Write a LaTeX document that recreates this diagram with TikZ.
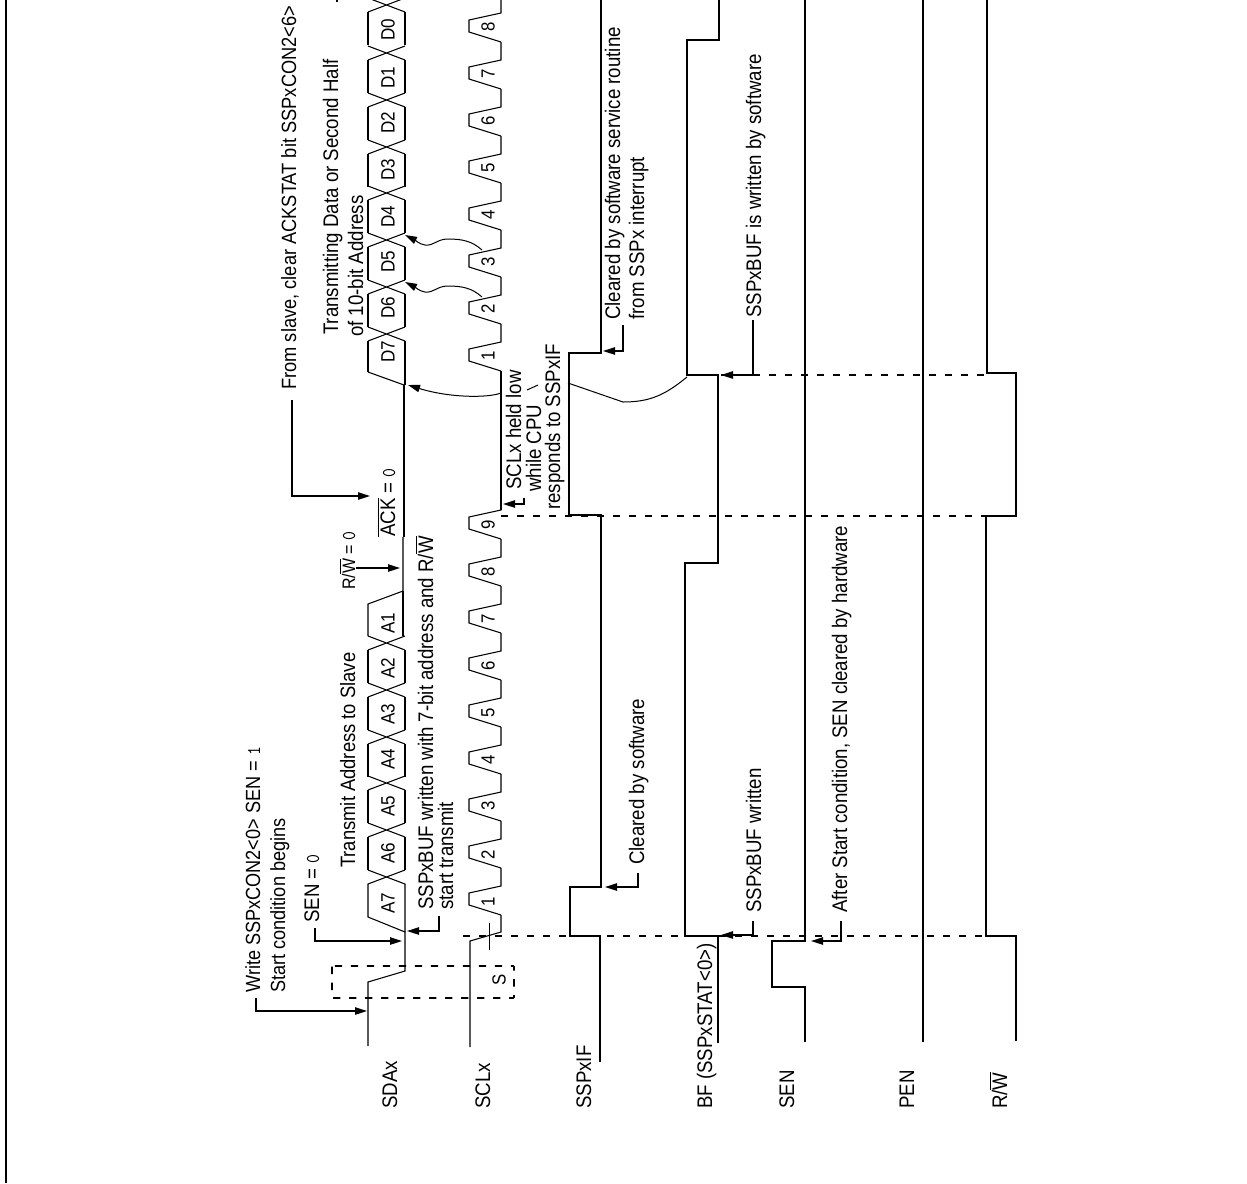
\documentclass[tikz,border=0pt]{standalone}
\usepackage{fontspec}
\setmainfont{Liberation Sans}
\usetikzlibrary{arrows.meta}
\newcommand{\ovbar}[1]{$\overline{\hbox{#1}}$}
\newcommand{\thinnum}[1]{{\ttfamily\fontsize{13}{13}\selectfont #1}}
\tikzset{
  sig/.style={line width=1.15pt,line join=miter},
  wave/.style={line width=0.8pt,line join=miter},
  guide/.style={line width=1.15pt,dash pattern=on 5.5pt off 6.5pt},
  thinline/.style={line width=0.75pt},
  callout/.style={line width=1.1pt,-{Triangle[length=9pt,width=5.5pt]}},
  thincallout/.style={line width=0.75pt,-{Triangle[length=9pt,width=5.5pt]}},
  lab/.style={rotate=90,yscale=1.13,anchor=base west,inner sep=0pt,font=\fontsize{14}{15}\selectfont},
  bub/.style={rotate=90,yscale=1.13,anchor=center,inner sep=0pt,font=\fontsize{12.8}{14}\selectfont},
  num/.style={rotate=90,yscale=1.13,anchor=center,inner sep=0pt,font=\fontsize{12.6}{14}\selectfont}
}
\begin{document}
\begin{tikzpicture}[x=0.75pt,y=-0.75pt]
\useasboundingbox (0,0) rectangle (1247,1183);
\clip (0,0) rectangle (1247,1183);
% frame
\draw[line width=1.2pt] (6,0) -- (6,1183);
% guides
\draw[guide] (463,936) -- (985,936);
\draw[guide] (501,516) -- (1017,516);
\draw[guide] (721,375) -- (987,375);
\draw[guide,rounded corners=0.5pt] (332,966) rectangle (514,998);
\draw[thinline] (489,923) -- (489,950);
% SDA
\draw[wave] (368,1046) -- (368,982) -- (405,971) -- (405,932) -- (368,917) -- (368,884) -- (405,870);
\draw[wave] (405,932) -- (405,884) -- (368,870);
\foreach \c/\n in {830/0,783/0,737/0,690/0,643/0}{
  \draw[wave] (368,\c+7) -- (405,\c-7) (405,\c+7) -- (368,\c-7);
  \draw[wave] (368,\c+7) -- (368,\c+40) (405,\c+7) -- (405,\c+40);
}
\draw[wave] (368,636) -- (368,604) -- (403,591) -- (403,537);
\draw[wave] (403,636) -- (403,591);
\draw[sig] (404,537) -- (404,385);
\draw[wave] (368,372) -- (404,385);
\draw[wave] (368,372) -- (368,341) (405,385) -- (405,341);
\foreach \c in {334,287,240,193,147,100,53,5}{
  \draw[wave] (368,\c+7) -- (405,\c-7) (405,\c+7) -- (368,\c-7);
}
\foreach \c in {287,240,193,147,100,53,5}{
  \draw[wave] (368,\c+7) -- (368,\c+40) (405,\c+7) -- (405,\c+40);
}
% SCL
\draw[wave] (470,1047) -- (470,941) -- (501,932) -- (501,915);
\foreach \b in {915,868,821,774,727,680,633,586,539}{
  \draw[wave] (501,\b) -- (469,\b-10) -- (469,\b-22) -- (501,\b-29) -- (501,\b-47);
}
\draw[sig] (501,510) -- (501,371);
\foreach \b in {371,324,277,230,183,136,89,42}{
  \draw[wave] (501,\b) -- (469,\b-10) -- (469,\b-22) -- (501,\b-29) -- (501,\b-47);
}
% level lines
\draw[sig] (600,1062) -- (600,936) -- (570,936) -- (570,887) -- (601,887) -- (601,515) -- (569,515) -- (569,353) -- (601,353) -- (601,0);
\draw[sig] (718,1043) -- (718,936) -- (685,936) -- (685,563) -- (718,563) -- (718,375) -- (687,375) -- (687,40) -- (719,40) -- (719,0);
\draw[sig] (805,1042) -- (805,987) -- (772,987) -- (772,941) -- (805,941) -- (805,0);
\draw[sig] (923,1042) -- (923,0);
\draw[sig] (1016,1041) -- (1016,936) -- (986,936) -- (986,516) -- (1016,516) -- (1016,373) -- (987,373) -- (987,0);
\draw[sig] (337,0) -- (337,2);
% callouts
\coordinate (w0) at (256,998); \coordinate (w1) at (367,1011);
\draw[callout] (w0) |- (w1);
\coordinate (s0) at (315,928); \coordinate (s1) at (402,941);
\draw[callout] (s0) |- (s1);
\coordinate (b0) at (439,916); \coordinate (b1) at (407,931);
\draw[callout] (b0) |- (b1);
\coordinate (c0) at (638,873); \coordinate (c1) at (605,887);
\draw[callout] (c0) |- (c1);
\coordinate (f0) at (753,921); \coordinate (f1) at (721,935);
\draw[callout] (f0) |- (f1);
\coordinate (h0) at (841,921); \coordinate (h1) at (811,941);
\draw[callout] (h0) |- (h1);
\coordinate (r0) at (356,568); \coordinate (r1) at (400,568);
\draw[callout] (r0) -- (r1);
\coordinate (k0) at (292,400); \coordinate (k1) at (370,496);
\draw[callout] (k0) |- (k1);
\coordinate (l0) at (524,498); \coordinate (l1) at (503,504);
\draw[callout] (l0) |- (l1);
\coordinate (m0) at (623,325); \coordinate (m1) at (603,351);
\draw[callout] (m0) |- (m1);
\coordinate (n0) at (753,320); \coordinate (n1) at (721,375);
\draw[callout] (n0) |- (n1);
% curved arrows
\draw[thincallout] (501,393) .. controls (488,398) and (450,398) .. (408,385);
\draw[thincallout] (482,250) .. controls (472,241) and (462,239) .. (448,239) .. controls (437,239) and (434,246) .. (425,245) .. controls (419,244) and (415,240) .. (405,235);
\draw[thincallout] (482,297) .. controls (472,288) and (462,286) .. (448,286) .. controls (437,286) and (434,293) .. (425,292) .. controls (419,291) and (415,287) .. (405,282);
\draw[thinline] (527,390) -- (538,385);
\draw[thinline] (568,383) -- (623,402) .. controls (650,402) and (665,395) .. (687,377);
% signal labels
\node[lab] (lsda) at (397,1109) {SDAx};
\node[lab] (lscl) at (490,1109) {SCLx};
\node[lab] (lsspif) at (591,1109) {SSPxIF};
\node[lab] (lbf) at (712,1109) {BF (SSPxSTAT<0>)};
\node[lab] (lsen) at (794,1109) {SEN};
\node[lab] (lpen) at (914,1109) {PEN};
\node[lab] (lrw) at (1007,1109) {R/\ovbar{W}};
% annotations
\node[lab,font=\fontsize{13.6}{15}\selectfont] (t1) at (260,993) {Write SSPxCON2<0> SEN = \thinnum{1}};
\node[lab,font=\fontsize{13.6}{15}\selectfont] (t2) at (285,993) {Start condition begins};
\node[lab] (t3) at (319,923) {SEN = \thinnum{0}};
\node[lab,font=\fontsize{13.8}{15}\selectfont] (t4) at (355,868) {Transmit Address to Slave};
\node[lab] (t5) at (433,910) {SSPxBUF written with 7-bit address and R/\ovbar{W}};
\node[lab] (t6) at (453,910) {start transmit};
\node[lab] (t7) at (644,865) {Cleared by software};
\node[lab] (t8) at (761,913) {SSPxBUF written};
\node[lab] (t9) at (847,913) {After Start condition, SEN cleared by hardware};
\node[lab,font=\fontsize{12}{13}\selectfont] (t10) at (355,590) {R/\ovbar{W} = \thinnum{0}};
\node[lab] (t11) at (395,537) {\ovbar{ACK} = \thinnum{0}};
\node[lab,font=\fontsize{13.7}{15}\selectfont] (t12) at (296,390) {From slave, clear ACKSTAT bit SSPxCON2<6>};
\node[lab] (t13) at (338,335) {Transmitting Data or Second Half};
\node[lab] (t14) at (363,337) {of 10-bit Address};
\node[lab] (t15) at (521,490) {SCLx held low};
\node[lab] (t16) at (541,492) {while CPU};
\node[lab] (t17) at (560,510) {responds to SSPxIF};
\node[lab] (t18) at (620,320) {Cleared by software service routine};
\node[lab] (t19) at (644,320) {from SSPx interrupt};
\node[lab] (t20) at (761,318) {SSPxBUF is written by software};
% bubbles
\foreach \t/\y in {A7/903,A6/853,A5/806,A4/759,A3/714,A2/668,A1/623,D7/352,D6/308,D5/262,D4/217,D3/170,D2/123,D1/78,D0/30}{
  \node[bub] (bub\t) at (388,\y) {\t};
}
\foreach \t/\y [count=\i] in {1/902,2/855,3/806,4/760,5/713,6/666,7/619,8/572,9/525}{
  \node[num] (pa\i) at (488,\y) {\t};
}
\foreach \t/\y [count=\i] in {1/356,2/309,3/262,4/215,5/168,6/121,7/74,8/27}{
  \node[num] (pb\i) at (488,\y) {\t};
}
\node[num] (ss) at (499,980) {S};
\end{tikzpicture}
\end{document}
